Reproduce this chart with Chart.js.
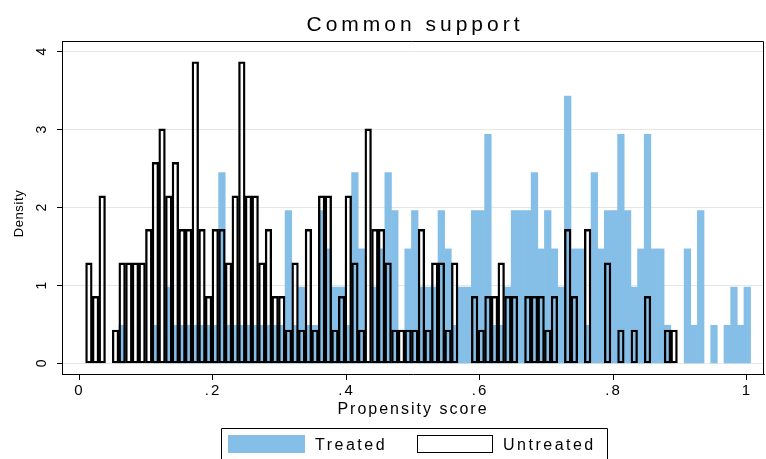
<!DOCTYPE html>
<html><head><meta charset="utf-8">
<script src="https://cdn.jsdelivr.net/npm/chart.js@4.4.1/dist/chart.umd.min.js"></script>
<style>html,body{margin:0;padding:0;background:#fff}#wrap{width:766px;height:459px}</style>
</head><body><div id="wrap"><canvas id="c" width="766" height="459"></canvas></div>
<script>
const binCenters = [
0.0141,0.0241,0.0340,0.0440,0.0540,0.0639,0.0739,0.0838,0.0938,0.1038,
0.1137,0.1237,0.1337,0.1436,0.1536,0.1635,0.1735,0.1835,0.1934,0.2034,
0.2134,0.2233,0.2333,0.2432,0.2532,0.2632,0.2731,0.2831,0.2931,0.3030,
0.3130,0.3230,0.3329,0.3429,0.3528,0.3628,0.3728,0.3827,0.3927,0.4027,
0.4126,0.4226,0.4325,0.4425,0.4525,0.4624,0.4724,0.4824,0.4923,0.5023,
0.5123,0.5222,0.5322,0.5421,0.5521,0.5621,0.5720,0.5820,0.5920,0.6019,
0.6119,0.6218,0.6318,0.6418,0.6517,0.6617,0.6717,0.6816,0.6916,0.7015,
0.7115,0.7215,0.7314,0.7414,0.7514,0.7613,0.7713,0.7812,0.7912,0.8012,
0.8111,0.8211,0.8311,0.8410,0.8510,0.8610,0.8709,0.8809,0.8908,0.9008,
0.9108,0.9207,0.9307,0.9406,0.9506,0.9606,0.9705,0.9805,0.9905,1.0004];

const treated = [
null,null,null,null,null,0.49,null,null,null,null,
0.49,null,0.98,0.49,0.49,0.49,0.49,0.49,0.49,0.49,
2.45,0.49,0.49,0.49,0.49,0.49,0.49,0.49,0.49,0.49,
1.96,0.49,0.98,0.49,0.49,1.96,1.47,0.98,0.98,0.49,
2.45,1.47,null,0.98,1.47,2.45,1.96,null,1.47,1.96,
0.98,0.98,0.98,1.96,1.47,0.49,0.98,0.98,1.96,1.96,
2.94,0.49,0.49,0.98,1.96,1.96,1.96,2.45,1.47,1.96,
1.47,0.98,3.43,1.47,1.47,0.49,2.45,1.47,1.96,1.96,
2.94,1.96,0.98,1.47,2.94,1.47,1.47,0.49,null,null,
1.47,0.49,1.96,null,0.49,null,0.49,0.98,0.49,0.98];

const untreated = [
1.29,0.86,2.15,null,0.43,1.29,1.29,1.29,1.29,1.72,
2.58,3.01,2.15,2.58,1.72,1.72,3.87,1.72,0.86,1.72,
1.72,1.29,2.15,3.87,2.15,2.15,1.29,1.72,0.86,0.86,
0.43,1.29,0.43,1.72,0.43,2.15,2.15,0.43,0.86,2.15,
1.29,0.43,3.01,1.72,1.72,1.29,0.43,0.43,0.43,0.43,
1.72,0.43,1.29,1.29,0.43,1.29,null,null,0.86,0.43,
0.86,0.86,1.29,0.86,0.86,null,0.86,0.86,0.86,0.43,
0.86,null,1.72,0.86,null,1.72,null,null,1.29,null,
0.43,null,0.43,null,0.86,null,null,0.43,0.43,null,
null,null,null,null,null,null,null,null,null,null];

const xTicks = [0, 0.2, 0.4, 0.6, 0.8, 1];
const yTicks = [0, 1, 2, 3, 4];
const seriesNames = ['Treated', 'Untreated'];
const chartTitle = 'Common support';
const xAxisTitle = 'Propensity score';
const yAxisTitle = 'Density';

const FONT = '"Liberation Sans", Arial, Helvetica, sans-serif';
const BLUE = '#85bfe8';

function fmtX(v){ if (v === 0) return '0'; if (v === 1) return '1'; return String(+v.toFixed(1)).replace(/^0\./, '.'); }

const deco = {
  id: 'deco',
  beforeDraw(chart){ chart.ctx.letterSpacing = '2px'; },
  afterDraw(chart){
    const ctx = chart.ctx, ca = chart.chartArea;
    ctx.save();
    ctx.letterSpacing = '0px';
    // plot frame (top + right)
    ctx.strokeStyle = '#000'; ctx.lineWidth = 1;
    ctx.beginPath();
    ctx.moveTo(ca.left, ca.top + 0.5); ctx.lineTo(ca.right - 0.5, ca.top + 0.5); ctx.lineTo(ca.right - 0.5, ca.bottom);
    ctx.stroke();
    // title
    ctx.fillStyle = '#000';
    ctx.font = '21px ' + FONT;
    ctx.letterSpacing = '4px';
    ctx.textAlign = 'center'; ctx.textBaseline = 'alphabetic';
    ctx.fillText(chartTitle, (ca.left + ca.right) / 2 + 2, 31);
    // y axis title (rotated)
    ctx.font = '13px ' + FONT;
    ctx.letterSpacing = '0.6px';
    ctx.save();
    ctx.translate(23, (ca.top + ca.bottom) / 2 + 6);
    ctx.rotate(-Math.PI / 2);
    ctx.textAlign = 'center'; ctx.textBaseline = 'alphabetic';
    ctx.fillText(yAxisTitle, 0, 0);
    ctx.restore();
    // y tick labels (rotated)
    const ys = chart.scales.y;
    ctx.font = '14px ' + FONT;
    ctx.letterSpacing = '0px';
    yTicks.forEach(v => {
      const py = ys.getPixelForValue(v);
      ctx.save();
      ctx.translate(46, py);
      ctx.rotate(-Math.PI / 2);
      ctx.textAlign = 'center'; ctx.textBaseline = 'alphabetic';
      ctx.fillText(String(v), 0, 0);
      ctx.restore();
    });
    // legend
    const lx = 221, ly = 428, lw = 386;
    ctx.strokeStyle = '#000'; ctx.lineWidth = 1;
    ctx.beginPath();
    ctx.moveTo(lx + 0.5, 470); ctx.lineTo(lx + 0.5, ly + 0.5); ctx.lineTo(lx + lw + 0.5, ly + 0.5); ctx.lineTo(lx + lw + 0.5, 470);
    ctx.stroke();
    ctx.fillStyle = BLUE;
    ctx.fillRect(228, 435, 77, 18);
    ctx.strokeStyle = '#000';
    ctx.strokeRect(417.5, 435.5, 75, 17);
    ctx.fillStyle = '#000';
    ctx.font = '16px ' + FONT;
    ctx.letterSpacing = '2.5px';
    ctx.textAlign = 'left'; ctx.textBaseline = 'alphabetic';
    ctx.fillText(seriesNames[0], 315, 450);
    ctx.fillText(seriesNames[1], 503, 450);
    ctx.restore();
  }
};

const cfg = {
  type: 'bar',
  data: {
    datasets: [
      { label: seriesNames[0], data: binCenters.map((x, i) => ({x: x, y: treated[i]})),
        backgroundColor: BLUE, borderWidth: 0, order: 1, grouped: false,
        barPercentage: 1, categoryPercentage: 1 },
      { label: seriesNames[1], data: binCenters.map((x, i) => ({x: x, y: untreated[i]})),
        backgroundColor: 'rgba(0,0,0,0)', borderColor: '#000', borderWidth: 1.7, borderSkipped: false,
        order: 0, grouped: false, barPercentage: 1, categoryPercentage: 1 }
    ]
  },
  options: {
    responsive: false, animation: false,
    layout: { padding: { top: 41, right: 2, left: 0, bottom: 35 } },
    plugins: { legend: { display: false }, tooltip: { enabled: false }, title: { display: false } },
    scales: {
      x: {
        type: 'linear', offset: false,
        min: -0.0262, max: 1.0255,
        afterBuildTicks: s => { s.ticks = xTicks.map(v => ({value: v})); },
        afterFit: s => { s.height = 50; },
        grid: { offset: false, drawOnChartArea: false, drawTicks: true, tickLength: 6, tickColor: '#000', tickWidth: 1 },
        border: { display: true, color: '#000', width: 1 },
        ticks: { autoSkip: false, maxRotation: 0, padding: 2, color: '#000', font: { family: FONT, size: 15 },
                 callback: v => fmtX(v) },
        title: { display: true, text: xAxisTitle, color: '#000', font: { family: FONT, size: 16 }, padding: { top: 0, bottom: 5 } }
      },
      y: {
        min: -0.135, max: 4.137,
        afterBuildTicks: s => { s.ticks = yTicks.map(v => ({value: v})); },
        afterFit: s => { s.width = 62; },
        grid: { offset: false, drawOnChartArea: true, color: '#e6e6e6', lineWidth: 1, drawTicks: true, tickLength: 5, tickColor: '#000', tickWidth: 1 },
        border: { display: true, color: '#000', width: 1 },
        ticks: { display: false },
        title: { display: false }
      }
    }
  },
  plugins: [deco]
};
new Chart(document.getElementById('c'), cfg);
</script>
</body></html>
